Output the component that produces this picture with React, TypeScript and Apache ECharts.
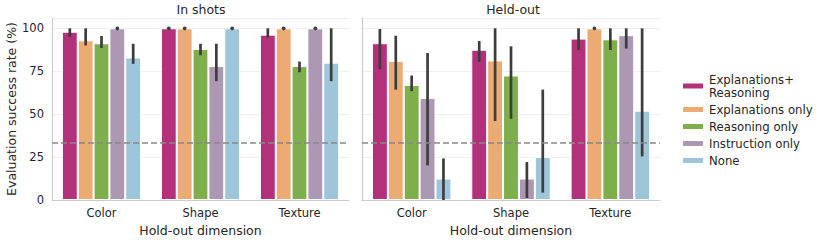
import React, { useEffect, useRef } from "react";
import * as echarts from "echarts";

const categories = ["Color", "Shape", "Texture"];
const hues = ["Explanations+\nReasoning", "Explanations only", "Reasoning only", "Instruction only", "None"];
const colors = ["#B3307A", "#EBAB72", "#7FAE4C", "#AD98B4", "#9EC6DA"];
const yTicks = [0, 25, 50, 75, 100];
const chanceLevel = 33.33;

// In shots
const inShotsValues = [
  [98, 100, 96.3],
  [93, 100, 100],
  [91.3, 88, 78],
  [100, 78, 100],
  [83, 100, 80],
];
const inShotsErr = [
  [[95, 100], [100, 100], [94.6, 100]],
  [[90, 100], [100, 100], [100, 100]],
  [[88.5, 95.5], [84.3, 91], [74.4, 80.6]],
  [[100, 100], [69.2, 91], [100, 100]],
  [[79.3, 91], [100, 100], [69.2, 100]],
];
// Held-out
const heldOutValues = [
  [91.3, 87.5, 94],
  [81, 81.3, 100],
  [67, 72.5, 93.6],
  [59.4, 12.5, 96],
  [12.5, 25, 52],
];
const heldOutErr = [
  [[76.2, 99.6], [80.4, 92.6], [87.4, 100]],
  [[64.3, 95.7], [46, 100], [100, 100]],
  [[63.4, 72.5], [47.3, 89.5], [87.4, 100]],
  [[20.2, 85.6], [1.2, 22.1], [88.2, 100]],
  [[0, 24.2], [4.3, 64.3], [25.4, 100]],
];

const TEXT = "#262626";
const FONT = "DejaVu Sans";

function makeErrSeries(hueIdx: number, err: number[][], axisIdx: number) {
  return {
    type: "custom",
    name: "err" + axisIdx + "_" + hueIdx,
    xAxisIndex: axisIdx,
    yAxisIndex: axisIdx,
    z: 5,
    encode: { x: 0, y: [1, 2] },
    data: err.map((e, i) => [i, e[0], e[1]]),
    renderItem: (params: any, api: any) => {
      const cat = api.value(0);
      const lo = api.value(1);
      const hi = api.value(2);
      const band = api.size([1, 0])[0];
      const bw = (band * 0.8) / hues.length;
      const off = (hueIdx - (hues.length - 1) / 2) * bw;
      const p1 = api.coord([cat, lo]);
      const p2 = api.coord([cat, hi]);
      const x = p1[0] + off;
      if (Math.abs(p1[1] - p2[1]) < 0.5) {
        return {
          type: "circle",
          shape: { cx: x, cy: p2[1], r: 1.9 },
          style: { fill: "#3d3d3d" },
        };
      }
      return {
        type: "line",
        shape: { x1: x, y1: p1[1], x2: x, y2: p2[1] },
        style: { stroke: "#3d3d3d", lineWidth: 2.7, lineCap: "butt" },
      };
    },
  };
}

export default function App() {
  const ref = useRef<HTMLDivElement>(null);
  useEffect(() => {
    if (!ref.current) return;
    const chart = echarts.init(ref.current, undefined, { renderer: "svg" });
    const grids = [
      { left: 52, top: 18, width: 297, height: 182 },
      { left: 362, top: 18, width: 298, height: 182 },
    ];
    const xAxes = [0, 1].map((i) => ({
      type: "category",
      gridIndex: i,
      data: categories,
      name: "Hold-out dimension",
      nameLocation: "middle",
      nameGap: 21,
      nameTextStyle: { fontFamily: FONT, fontSize: 12.5, color: TEXT },
      axisLine: { lineStyle: { color: "#cccccc", width: 1.2 } },
      axisTick: { show: false },
      axisLabel: { fontFamily: FONT, fontSize: 11.5, color: TEXT, margin: 7 },
      splitLine: { show: false },
    }));
    const yAxes = [0, 1].map((i) => ({
      type: "value",
      gridIndex: i,
      min: 0,
      max: 106,
      interval: 25,
      name: i === 0 ? "Evaluation success rate (%)" : "",
      nameLocation: "middle",
      nameGap: 30,
      nameTextStyle: { fontFamily: FONT, fontSize: 12.5, color: TEXT },
      axisLine: { show: true, lineStyle: { color: "#cccccc", width: 1.2 } },
      axisTick: { show: false },
      axisLabel: {
        show: i === 0,
        fontFamily: FONT,
        fontSize: 11.5,
        color: TEXT,
        margin: 8,
        formatter: (v: number) => (yTicks.indexOf(v) >= 0 ? String(v) : ""),
      },
      splitLine: { show: true, lineStyle: { color: "#eeeeee", width: 1 } },
    }));
    const series: any[] = [];
    [inShotsValues, heldOutValues].forEach((vals, axisIdx) => {
      vals.forEach((v, h) => {
        series.push({
          type: "bar",
          name: hues[h],
          xAxisIndex: axisIdx,
          yAxisIndex: axisIdx,
          data: v,
          barGap: "0%",
          barCategoryGap: "20%",
          itemStyle: { color: colors[h], borderColor: "#ffffff", borderWidth: 1 },
          markLine:
            h === 0
              ? {
                  silent: true,
                  symbol: "none",
                  label: { show: false },
                  lineStyle: { color: "#888888", type: [6, 3], width: 1.6 },
                  data: [{ yAxis: chanceLevel }],
                  z: 10,
                }
              : undefined,
        });
      });
    });
    [inShotsErr, heldOutErr].forEach((errs, axisIdx) => {
      errs.forEach((e, h) => series.push(makeErrSeries(h, e, axisIdx)));
    });
    const titleStyle = { fontFamily: FONT, fontSize: 12.5, color: TEXT, fontWeight: "normal" };
    chart.setOption({
      animation: false,
      color: colors,
      title: [
        { text: "In shots", left: 201, top: 3, padding: 0, textAlign: "center", textStyle: titleStyle },
        { text: "Held-out", left: 513, top: 3, padding: 0, textAlign: "center", textStyle: titleStyle },
      ],
      legend: {
        data: hues,
        orient: "vertical",
        left: 681,
        top: 73,
        padding: 0,
        icon: "rect",
        itemWidth: 22,
        itemHeight: 7,
        itemGap: 4,
        textStyle: { fontFamily: FONT, fontSize: 11.7, color: TEXT, lineHeight: 13 },
        selectedMode: false,
      },
      grid: grids,
      xAxis: xAxes,
      yAxis: yAxes,
      series,
    });
    return () => chart.dispose();
  }, []);
  return <div ref={ref} style={{ width: 830, height: 242, position: "absolute", left: 0, top: 0 }} />;
}
